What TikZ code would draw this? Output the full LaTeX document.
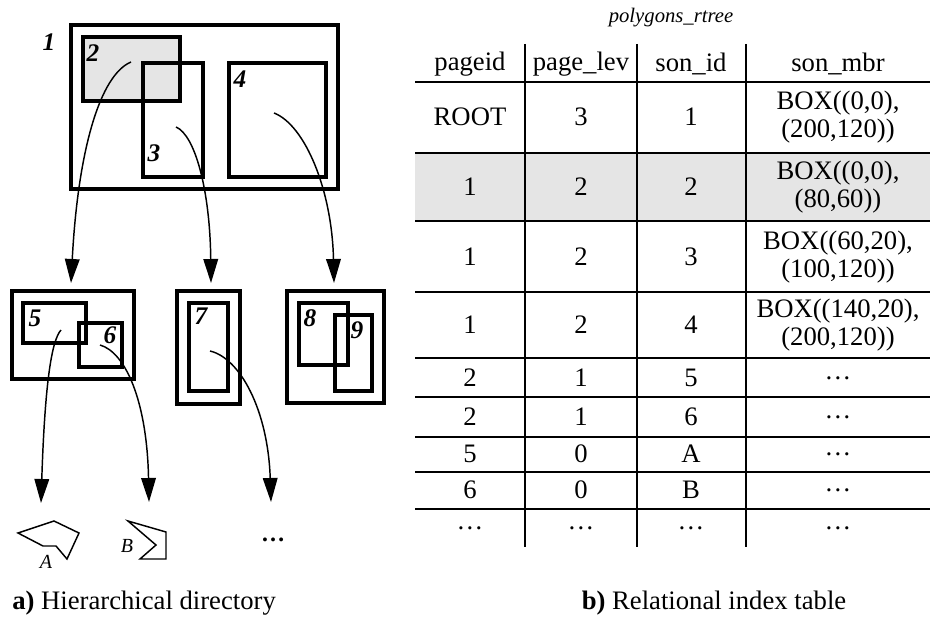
\documentclass[tikz,border=0pt]{standalone}
\usepackage{fontspec}
\setmainfont{Liberation Serif}
\usetikzlibrary{arrows.meta}
\begin{document}
\begin{tikzpicture}[x=0.75pt,y=-0.75pt,
	box/.style={line width=2.4pt},
	arr/.style={line width=1.1pt,-{Triangle[length=18pt,width=11pt]}},
	lab/.style={font=\fontsize{19}{21}\selectfont\bfseries\itshape,inner sep=0pt},
	cell/.style={font=\fontsize{20}{21}\selectfont,align=center,inner sep=0pt},
	rule/.style={line width=2.2pt}]
	\useasboundingbox (0,0) rectangle (930,620);

	% hierarchical directory, level 1
	\fill[gray!20] (83,37) rectangle (180,101);
	\draw[box] (71,25) rectangle (338,189);
	\draw[box] (83,37) rectangle (180,101);
	\draw[box] (143,63) rectangle (203,177);
	\draw[box] (229,63) rectangle (326,177);
	\node[lab] (l1) at (49,42) {1};
	\node[lab] (l2) at (93,53) {2};
	\node[lab] (l3) at (154,153) {3};
	\node[lab] (l4) at (240,79) {4};

	% level 2
	\draw[box] (12,291) rectangle (134,379);
	\draw[box] (23,303) rectangle (86,343);
	\draw[box] (79,323) rectangle (122,367);
	\draw[box] (177,291) rectangle (240,404);
	\draw[box] (189,303) rectangle (228,391);
	\draw[box] (287,291) rectangle (384,403);
	\draw[box] (299,303) rectangle (348,365);
	\draw[box] (335,315) rectangle (372,391);
	\node[lab] (l5) at (35,318) {5};
	\node[lab] (l6) at (110,335) {6};
	\node[lab] (l7) at (201,316) {7};
	\node[lab] (l8) at (310,318) {8};
	\node[lab] (l9) at (357,330) {9};

	% data objects
	\draw[line width=1.1pt] (18,533) -- (54,521) -- (79,533) -- (67,559) -- (56,546) -- (43,546) -- cycle;
	\draw[line width=1.1pt] (128,521) -- (166,532) -- (166,559) -- (140,559) -- (156,545) -- cycle;
	\node[font=\fontsize{15}{17}\selectfont\itshape] (pa) at (46,562) {A};
	\node[font=\fontsize{15}{17}\selectfont\itshape] (pb) at (127,546) {B};
	\node[font=\fontsize{18}{20}\selectfont\bfseries] (pd) at (273,540) {…};

	% pointers
	\coordinate (s2) at (131,62);   \coordinate (t2) at (71,283);
	\coordinate (s3) at (176,127);  \coordinate (t3) at (211,283);
	\coordinate (s4) at (274,113);  \coordinate (t4) at (334,283);
	\coordinate (s5) at (61,330);   \coordinate (t5) at (41,503);
	\coordinate (s6) at (100,345);  \coordinate (t6) at (149,502);
	\coordinate (s7) at (210,351);  \coordinate (t7) at (271,502);
	\draw[arr] (s2) .. controls (100,75) and (78,150) .. (t2);
	\draw[arr] (s3) .. controls (195,135) and (210,190) .. (t3);
	\draw[arr] (s4) .. controls (305,125) and (332,190) .. (t4);
	\draw[arr] (s5) .. controls (52,340) and (45,380) .. (t5);
	\draw[arr] (s6) .. controls (125,352) and (147,400) .. (t6);
	\draw[arr] (s7) .. controls (240,358) and (268,410) .. (t7);

	% relational index table
	\node[font=\fontsize{15.5}{17}\selectfont\itshape] (title) at (671,18) {polygons\_rtree};
	\fill[gray!20] (415,153) rectangle (930,221);
	\foreach \y in {82,153,221,292,358,397,437,472,509}
		\draw[rule] (415,\y) -- (930,\y);
	\foreach \x in {525,637,746}
		\draw[rule] (\x,44) -- (\x,547);
	\foreach \y/\a/\b/\c/\d [count=\r] in {
		64/pageid/page\_lev/son\_id/son\_mbr,
		117/ROOT/3/1/{BOX((0,0),\\(200,120))},
		187/1/2/2/{BOX((0,0),\\(80,60))},
		257/1/2/3/{BOX((60,20),\\(100,120))},
		325/1/2/4/{BOX((140,20),\\(200,120))},
		378/2/1/5/…,
		417/2/1/6/…,
		454/5/0/A/…,
		490/6/0/B/…,
		528/…/…/…/…}{
		\node[cell] (r\r a) at (470,\y) {\a};
		\node[cell] (r\r b) at (581,\y) {\b};
		\node[cell] (r\r c) at (691,\y) {\c};
		\node[cell] (r\r d) at (838,\y) {\d};
	}

	% captions
	\node[cell,anchor=west] (capa) at (12,603) {\textbf{a)} Hierarchical directory};
	\node[cell] (capb) at (714,603) {\textbf{b)} Relational index table};
\end{tikzpicture}
\end{document}
